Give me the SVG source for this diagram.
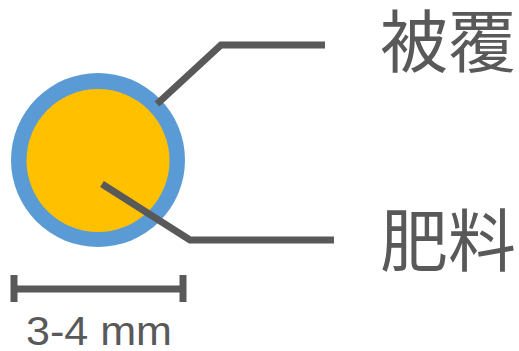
<svg xmlns="http://www.w3.org/2000/svg" width="519" height="351" viewBox="0 0 519 351">
<style>
.ln{fill:none;stroke:#595959;stroke-width:7;stroke-linejoin:miter}
.lbl{fill:#595959;font-family:"Noto Sans CJK JP","Noto Sans CJK SC",sans-serif;font-size:68px}
.dim{fill:#595959;font-family:"Liberation Sans",Arial,sans-serif;font-size:40px}
</style>
<rect width="519" height="351" fill="#fff"/>
<g id="cable">
<circle cx="98" cy="160" r="87" fill="#5B9BD5"/>
<circle cx="98" cy="160.5" r="71.5" fill="#FFC000"/>
</g>
<g id="connectors">
<polyline class="ln" points="157,104 221,45 325,45"/>
<polyline class="ln" points="102,184 190,240 334,240"/>
</g>
<g id="label-coating"><text class="lbl" x="380" y="67">被覆</text></g>
<g id="label-fertilizer"><text class="lbl" x="380" y="266">肥料</text></g>
<g id="dimension">
<line class="ln" x1="14" y1="289" x2="183" y2="289"/>
<line class="ln" x1="14" y1="275" x2="14" y2="302"/>
<line class="ln" x1="183" y1="275" x2="183" y2="302"/>
<text class="dim" x="26" y="345" textLength="146" lengthAdjust="spacingAndGlyphs">3-4 mm</text>
</g>
</svg>
